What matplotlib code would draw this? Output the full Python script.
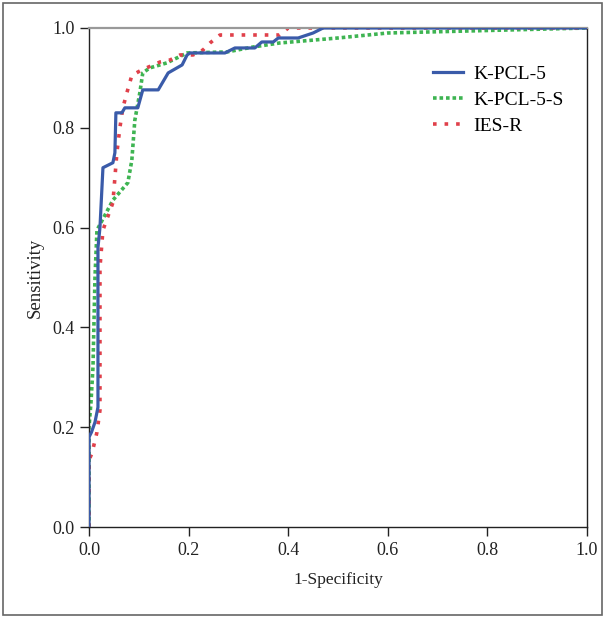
import matplotlib
matplotlib.use("Agg")
import matplotlib.pyplot as plt
from matplotlib.patches import Rectangle

#============================================================
# ROC curves
kpcl5_x = [0, 0, 0.005, 0.012, 0.018, 0.018, 0.022, 0.028, 0.048, 0.052, 0.054, 0.066, 0.072,
           0.098, 0.108, 0.139, 0.159, 0.187, 0.197, 0.203, 0.273, 0.293, 0.333, 0.347, 0.37,
           0.38, 0.42, 0.45, 0.47, 1.0]
kpcl5_y = [0, 0.18, 0.19, 0.21, 0.24, 0.56, 0.6, 0.72, 0.73, 0.75, 0.83, 0.83, 0.84,
           0.84, 0.876, 0.876, 0.91, 0.926, 0.946, 0.95, 0.95, 0.96, 0.96, 0.972, 0.972,
           0.98, 0.98, 0.99, 1.0, 1.0]

kpcl5s_x = [0, 0, 0.004, 0.008, 0.012, 0.016, 0.048, 0.078, 0.086, 0.092, 0.102, 0.108, 0.122,
            0.156, 0.197, 0.277, 0.33, 0.383, 0.5, 0.6, 0.8, 1.0]
kpcl5s_y = [0, 0.2, 0.25, 0.32, 0.5, 0.595, 0.655, 0.69, 0.735, 0.815, 0.87, 0.91, 0.92,
            0.93, 0.95, 0.952, 0.962, 0.97, 0.98, 0.99, 0.995, 1.0]

iesr_x = [0, 0, 0.006, 0.016, 0.022, 0.022, 0.028, 0.048, 0.056, 0.062, 0.068, 0.076, 0.086,
          0.106, 0.143, 0.163, 0.183, 0.209, 0.229, 0.243, 0.263, 0.383, 0.4, 1.0]
iesr_y = [0, 0.134, 0.148, 0.19, 0.234, 0.52, 0.595, 0.65, 0.75, 0.80, 0.84, 0.87, 0.905,
          0.916, 0.932, 0.936, 0.946, 0.946, 0.956, 0.97, 0.986, 0.986, 1.0, 1.0]

labels = ["K-PCL-5", "K-PCL-5-S", "IES-R"]
ticks = [0.0, 0.2, 0.4, 0.6, 0.8, 1.0]
#============================================================

plt.rcParams['font.family'] = ['Liberation Serif', 'DejaVu Serif']

fig = plt.figure(figsize=(6.05, 6.18), dpi=100)
ax = fig.add_axes([89/605, 1-527/618, 498/605, 499/618])

ax.plot(kpcl5_x, kpcl5_y, color="#3a5ba9", lw=2.3, label=labels[0], zorder=3)
ax.plot(kpcl5s_x, kpcl5s_y, color="#3eb452", lw=2.6, linestyle=(0, (1, 0.8)), label=labels[1], zorder=2)
ax.plot(iesr_x, iesr_y, color="#e0404a", lw=2.6, linestyle=(0, (1, 2.2)), label=labels[2], zorder=2)

ax.set_xlim(0, 1)
ax.set_ylim(0, 1)
ax.set_xticks(ticks)
ax.set_yticks(ticks)
ax.set_xticklabels(["%.1f" % t for t in ticks])
ax.set_yticklabels(["%.1f" % t for t in ticks])
ax.tick_params(direction="out", length=6.5, width=1, pad=4, labelsize=13, colors="#222222")
ax.spines["top"].set_color("#999999")
ax.spines["top"].set_linewidth(1.6)
for s in ["left", "bottom", "right"]:
    ax.spines[s].set_color("#222222")
    ax.spines[s].set_linewidth(1.0)

ax.set_xlabel("1-Specificity", fontsize=12.5, color="#222222", labelpad=10)
ax.set_ylabel("Sensitivity", fontsize=13.5, color="#222222", labelpad=6)

ax.legend(loc="upper left", bbox_to_anchor=(0.691, 0.925), frameon=False, fontsize=14,
          borderpad=0, borderaxespad=0, handlelength=1.55, handletextpad=0.5, labelspacing=0.42)

fig.patches.append(Rectangle((3/605, 3/618), 599/605, 612/618, transform=fig.transFigure,
                             fill=False, edgecolor="#666666", lw=1.2))

fig.savefig("out.png", dpi=100)
